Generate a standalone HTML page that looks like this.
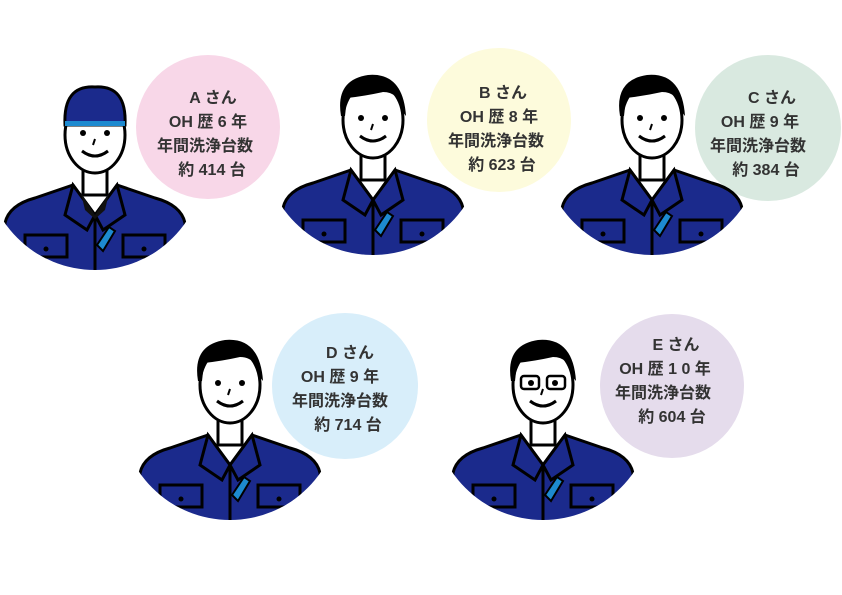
<!DOCTYPE html>
<html><head><meta charset="utf-8"><style>
body{margin:0;background:#fff;width:842px;height:595px;overflow:hidden}
svg{display:block}
text{font-family:"Liberation Sans","Noto Sans CJK JP",sans-serif;font-weight:bold;font-size:16px;fill:#333}
</style></head><body>
<svg width="842" height="595" viewBox="0 0 842 595">
<defs>
<clipPath id="cl"><circle cx="0" cy="25" r="110"/></clipPath>
<g id="w">
 <g clip-path="url(#cl)">
  <path d="M-12 25 L-12 60 L12 60 L12 25 Z" fill="#fff" stroke="#000" stroke-width="3"/>
  <path d="M-92 160 L-90 88 Q-86 70 -60 63 L-22 50 L0 80 L22 50 L60 63 Q86 70 90 88 L92 160 Z" fill="#1b2a8c" stroke="#000" stroke-width="3"/>
  <path d="M-22 50 L-30 80 L-8 95 L0 80 Z M22 50 L30 80 L8 95 L0 80 Z" fill="#1b2a8c" stroke="#000" stroke-width="3"/>
  <path d="M0 82 L0 160" stroke="#000" stroke-width="3"/>
  <path d="M2 110 L14 92 L20 96 L8 116 Z" fill="#1d8ad0" stroke="#000" stroke-width="2"/>
  <rect x="-70" y="100" width="42" height="22" fill="#1b2a8c" stroke="#000" stroke-width="3"/>
  <rect x="28" y="100" width="42" height="22" fill="#1b2a8c" stroke="#000" stroke-width="3"/>
  <circle cx="-49" cy="114" r="2.5" fill="#000"/><circle cx="49" cy="114" r="2.5" fill="#000"/>
 </g>
 <ellipse cx="0" cy="0" rx="30" ry="38" fill="#fff" stroke="#000" stroke-width="3"/>
 <circle cx="-12" cy="-2" r="3" fill="#000"/><circle cx="12" cy="-2" r="3" fill="#000"/>
 <path d="M-13 16 Q0 26 13 16" fill="none" stroke="#000" stroke-width="3"/>
 <path d="M0 4 L-2 10" stroke="#000" stroke-width="2"/>
</g>
<path id="hair" d="M-32 -4 Q-38 -40 -5 -45 Q30 -48 33 -4 L28 -10 Q26 -28 10 -28 Q-8 -24 -26 -22 L-28 -4 Z" fill="#000"/>
<path id="cap" d="M-30 -10 Q-32 -50 0 -48 Q32 -50 30 -10 Z" fill="#1b2a8c" stroke="#000" stroke-width="3"/>
</defs>
<circle cx="208" cy="127" r="72" fill="#f8d7e8"/>
<circle cx="499" cy="120" r="72" fill="#fdfbdc"/>
<circle cx="768" cy="128" r="73" fill="#d9e9e0"/>
<circle cx="345" cy="386" r="73" fill="#d8eefa"/>
<circle cx="672" cy="386" r="72" fill="#e5dcec"/>

<g transform="translate(95,135)"><use href="#w"/><path d="M-14 58 L0 80 L14 58 L10 75 L0 84 L-10 75 Z" fill="#111"/><use href="#cap"/><rect x="-30" y="-14" width="60" height="5" fill="#1d8ad0"/></g>
<g transform="translate(373,120)"><use href="#w"/><use href="#hair"/></g>
<g transform="translate(652,120)"><use href="#w"/><use href="#hair"/></g>
<g transform="translate(230,385)"><use href="#w"/><use href="#hair"/></g>
<g transform="translate(543,385)"><use href="#w"/><use href="#hair"/>
 <rect x="-22" y="-9" width="18" height="13" rx="3" fill="none" stroke="#000" stroke-width="2.5"/>
 <rect x="4" y="-9" width="18" height="13" rx="3" fill="none" stroke="#000" stroke-width="2.5"/></g>

<g text-anchor="middle">
<text x="213" y="103">A さん</text><text x="208" y="127">OH 歴 6 年</text><text x="205" y="151">年間洗浄台数</text><text x="212" y="175">約 414 台</text>
<text x="503" y="98">B さん</text><text x="499" y="122">OH 歴 8 年</text><text x="496" y="146">年間洗浄台数</text><text x="502" y="170">約 623 台</text>
<text x="772" y="103">C さん</text><text x="760" y="127">OH 歴 9 年</text><text x="758" y="151">年間洗浄台数</text><text x="766" y="175">約 384 台</text>
<text x="350" y="358">D さん</text><text x="340" y="382">OH 歴 9 年</text><text x="340" y="406">年間洗浄台数</text><text x="348" y="430">約 714 台</text>
<text x="676" y="350">E さん</text><text x="665" y="374">OH 歴 1 0 年</text><text x="663" y="398">年間洗浄台数</text><text x="672" y="422">約 604 台</text>
</g>
</svg>
</body></html>
